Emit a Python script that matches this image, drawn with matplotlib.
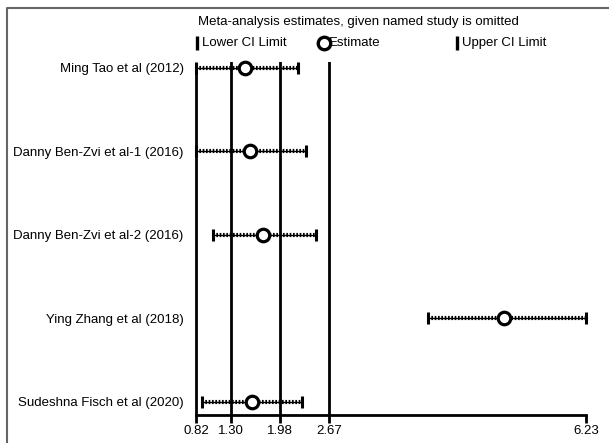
import numpy as np
import matplotlib.pyplot as plt

plt.rcParams['font.family'] = ['Liberation Sans', 'DejaVu Sans']

studies = ['Ming Tao et al (2012)', 'Danny Ben-Zvi et al-1 (2016)',
           'Danny Ben-Zvi et al-2 (2016)', 'Ying Zhang et al (2018)',
           'Sudeshna Fisch et al (2020)']
lower = [0.82, 0.82, 1.06, 4.04, 0.90]
estimate = [1.50, 1.57, 1.75, 5.09, 1.60]
upper = [2.23, 2.35, 2.48, 6.23, 2.29]
ref_lines = [1.30, 1.98, 2.67]
xticks = [0.82, 1.30, 1.98, 2.67, 6.23]


def main():
    fig = plt.figure(figsize=(6.09, 4.43), dpi=100)
    ax = fig.add_axes([196/609, 28/443, 390/609, 353/443])
    y = np.arange(len(studies))

    for xv in ref_lines:
        ax.axvline(xv, color='black', lw=2, zorder=1)

    for i in range(len(studies)):
        ax.plot([lower[i], upper[i]], [y[i], y[i]], color='black', lw=1, zorder=2,
                clip_on=False)
        ax.plot([lower[i], upper[i]], [y[i], y[i]], color='black', lw=3,
                linestyle=(0, (0.4, 0.4)), zorder=2, clip_on=False)
    ax.plot(lower, y, linestyle='none', marker='|', ms=8, mew=2.2, color='black',
            zorder=3, clip_on=False)
    ax.plot(upper, y, linestyle='none', marker='|', ms=8, mew=2.2, color='black',
            zorder=3, clip_on=False)
    ax.plot(estimate, y, linestyle='none', marker='o', ms=9, mew=2.3,
            mfc='white', mec='black', zorder=4, clip_on=False)

    ax.set_xlim(0.82, 6.23)
    ax.set_ylim(4.16, -0.07)
    ax.set_xticks(xticks)
    ax.set_xticklabels(['%.2f' % v for v in xticks], fontsize=9.5)
    ax.set_yticks(y)
    ax.set_yticklabels(studies, fontsize=9.5)
    ax.tick_params(axis='y', length=0, pad=9)
    ax.tick_params(axis='x', length=6, width=2, pad=1)
    for s in ['top', 'right']:
        ax.spines[s].set_visible(False)
    for s in ['left', 'bottom']:
        ax.spines[s].set_linewidth(2)
    ax.spines['left'].set_bounds(4.16, -0.03)

    # legend block above the plot
    fig.text(198/609, 1 - 22/443, 'Meta-analysis estimates, given named study is omitted',
             fontsize=9.5, va='center', ha='left')
    ly = 1 - 43/443
    fig.lines.append(plt.Line2D([197/609], [ly], transform=fig.transFigure, marker='|',
                                ms=9.5, mew=2.4, color='black'))
    fig.text(202/609, ly, 'Lower CI Limit', fontsize=9.5, va='center', ha='left')
    fig.lines.append(plt.Line2D([324/609], [ly], transform=fig.transFigure, marker='o',
                                ms=9, mew=2.4, mfc='white', mec='black'))
    fig.text(329/609, ly, 'Estimate', fontsize=9.5, va='center', ha='left')
    fig.lines.append(plt.Line2D([457/609], [ly], transform=fig.transFigure, marker='|',
                                ms=9.5, mew=2.4, color='black'))
    fig.text(462/609, ly, 'Upper CI Limit', fontsize=9.5, va='center', ha='left')

    # partial frame (top and left only, as in the source image)
    fig.lines.append(plt.Line2D([7/609, 7/609, 1.0], [0.0, 1 - 8/443, 1 - 8/443],
                                transform=fig.transFigure, color='#666666', lw=1.5))

    fig.savefig('out.png', dpi=100)


if __name__ == "__main__":
    main()
